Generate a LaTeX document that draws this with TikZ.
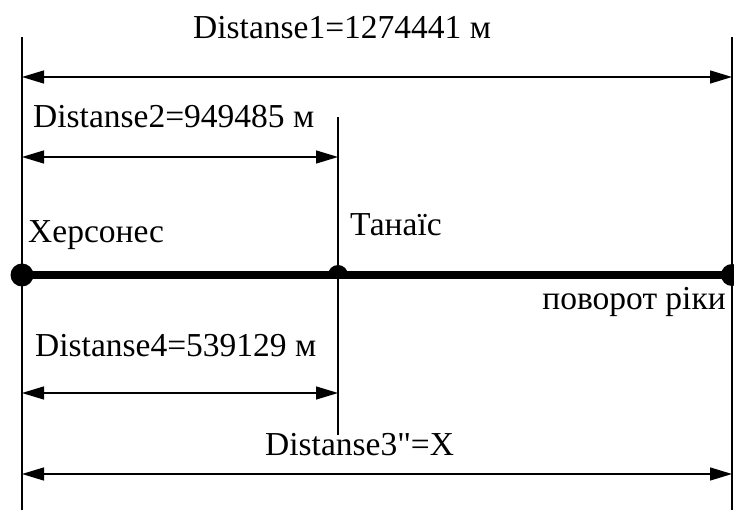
\documentclass[tikz,border=0pt]{standalone}
\usepackage{fontspec}
\setmainfont{Liberation Serif}[Ligatures=TeXOff]
\usetikzlibrary{arrows.meta}
\begin{document}
\begin{tikzpicture}[x=1pt,y=-1pt,
  guide/.style={line width=1.4pt},
  dim/.style={line width=1.4pt,{Triangle[length=22pt,width=13pt]}-{Triangle[length=22pt,width=13pt]}},
  route/.style={line width=8pt},
  lbl/.style={inner sep=0pt,font=\rmfamily\fontsize{33.5}{40}\selectfont}]
\useasboundingbox (0,0) rectangle (734,510);
% end points and the intermediate point
\coordinate (Ltop) at (22,37);   \coordinate (Lbot) at (22,510);
\coordinate (Rtop) at (732,37);  \coordinate (Rbot) at (732,510);
\coordinate (Mtop) at (338,117); \coordinate (Mbot) at (338,435);
% vertical guide lines
\draw[guide] (Ltop) -- (Lbot);
\draw[guide] (Rtop) -- (Rbot);
\draw[guide] (Mtop) -- (Mbot);
% dimension arrows
\coordinate (d1a) at (22,77);  \coordinate (d1b) at (732,77);
\coordinate (d2a) at (22,157); \coordinate (d2b) at (338,157);
\coordinate (d4a) at (22,393); \coordinate (d4b) at (338,393);
\coordinate (d3a) at (22,474); \coordinate (d3b) at (732,474);
\draw[dim] (d1a) -- (d1b);
\draw[dim] (d2a) -- (d2b);
\draw[dim] (d4a) -- (d4b);
\draw[dim] (d3a) -- (d3b);
% the route
\coordinate (P1) at (22,275); \coordinate (P2) at (338,275); \coordinate (P3) at (732,275);
\draw[route] (P1) -- (P3);
\fill (P1) circle[radius=11.5];
\fill (P3) circle[radius=11];
% half disc on top of the line at the intermediate point (y axis points down)
\fill (338-10,275) arc[start angle=180,end angle=360,radius=10] -- cycle;
% labels
\node[lbl,anchor=base west] (t1) at (193,39) {Distanse1=1274441 м};
\node[lbl,anchor=base west] (t2) at (33,128) {Distanse2=949485 м};
\node[lbl,anchor=base west] (t5) at (28,243) {Херсонес};
\node[lbl,anchor=base west] (t6) at (350,236) {Танаїс};
\node[lbl,anchor=base east] (t7) at (726,310) {поворот ріки};
\node[lbl,anchor=base west] (t4) at (35,357) {Distanse4=539129 м};
\node[lbl,anchor=base west] (t3) at (265,456) {Distanse3"=X};
\end{tikzpicture}
\end{document}
